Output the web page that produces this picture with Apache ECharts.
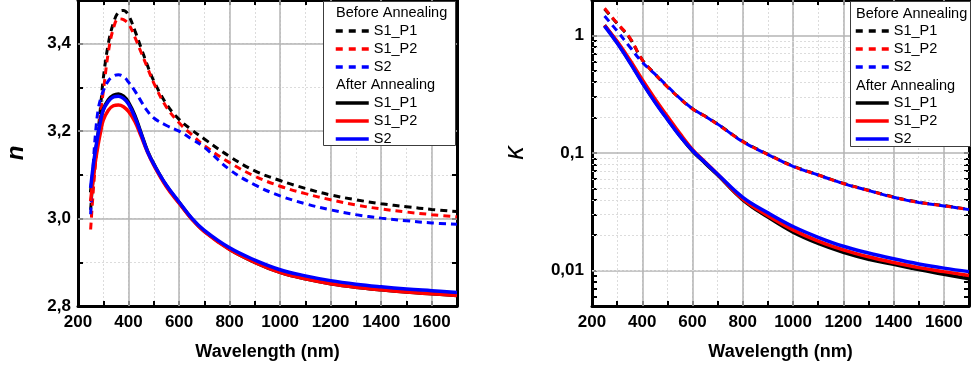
<!DOCTYPE html>
<html><head><meta charset="utf-8">
<script src="https://cdn.jsdelivr.net/npm/echarts@6/dist/echarts.min.js"></script>
<style>html,body{margin:0;padding:0;background:#fff}#c{width:972px;height:368px}</style>
</head><body><div id="c"></div>
<script>
// ---------- data ----------
const nLambda = [250,260,270,280,290,300,320,340,360,380,400,425,450,475,500,550,600,650,700,800,900,1000,1100,1200,1300,1400,1500,1600,1700];
const nBefore_S1_P1 = [3.02,3.09,3.14,3.20,3.26,3.32,3.40,3.447,3.472,3.476,3.465,3.430,3.390,3.350,3.315,3.262,3.227,3.203,3.182,3.142,3.109,3.087,3.069,3.054,3.043,3.034,3.027,3.021,3.016];
const nBefore_S1_P2 = [2.975,3.06,3.13,3.19,3.245,3.29,3.38,3.435,3.457,3.455,3.445,3.415,3.380,3.345,3.310,3.255,3.219,3.192,3.167,3.128,3.097,3.074,3.057,3.043,3.031,3.022,3.015,3.009,3.004];
const nBefore_S2 = [3.01,3.12,3.20,3.25,3.275,3.292,3.315,3.326,3.329,3.325,3.312,3.292,3.268,3.246,3.230,3.213,3.200,3.182,3.163,3.112,3.077,3.052,3.034,3.020,3.009,3.001,2.995,2.990,2.987];
const nAfter_S1_P1 = [3.06,3.11,3.155,3.19,3.225,3.25,3.272,3.282,3.285,3.280,3.266,3.236,3.195,3.155,3.125,3.075,3.037,3.000,2.971,2.930,2.900,2.877,2.862,2.851,2.843,2.837,2.832,2.828,2.824];
const nAfter_S1_P2 = [3.04,3.09,3.135,3.17,3.20,3.225,3.248,3.258,3.260,3.256,3.245,3.222,3.188,3.152,3.122,3.073,3.035,2.999,2.970,2.929,2.900,2.877,2.862,2.851,2.843,2.837,2.832,2.828,2.824];
const nAfter_S2 = [3.07,3.12,3.16,3.195,3.225,3.248,3.268,3.278,3.280,3.275,3.262,3.232,3.193,3.153,3.124,3.076,3.038,3.001,2.973,2.933,2.905,2.883,2.869,2.858,2.850,2.844,2.839,2.835,2.831];

const kLambda = [250,300,350,400,450,500,550,600,650,700,800,900,1000,1100,1200,1300,1400,1500,1600,1700];
const kBefore_S1_P1 = [1.68,1.26,0.95,0.62,0.47,0.366,0.291,0.238,0.206,0.176,0.126,0.0975,0.0775,0.0652,0.0552,0.0482,0.0422,0.0382,0.0357,0.0332];
const kBefore_S1_P2 = [1.70,1.27,0.96,0.62,0.47,0.365,0.290,0.237,0.205,0.175,0.125,0.097,0.077,0.065,0.055,0.048,0.042,0.038,0.0355,0.033];
const kBefore_S2 = [1.46,1.09,0.80,0.59,0.47,0.37,0.292,0.238,0.205,0.176,0.125,0.097,0.077,0.065,0.055,0.048,0.042,0.038,0.0355,0.033];
const kAfter_S1_P1 = [1.22,0.87,0.60,0.40,0.275,0.195,0.140,0.104,0.082,0.065,0.040,0.0285,0.0212,0.0170,0.0143,0.0125,0.0113,0.0102,0.0093,0.0085];
const kAfter_S1_P2 = [1.22,0.89,0.62,0.42,0.29,0.205,0.146,0.107,0.084,0.066,0.0405,0.0293,0.0222,0.0178,0.0150,0.0131,0.0117,0.0106,0.0098,0.0091];
const kAfter_S2 = [1.20,0.86,0.59,0.395,0.272,0.193,0.139,0.105,0.083,0.066,0.042,0.031,0.0237,0.0192,0.0161,0.0141,0.0126,0.0114,0.0105,0.0098];

// ---------- ticks ----------
const xTicks = [200,400,600,800,1000,1200,1400,1600];
const xTickLabels = ['200','400','600','800','1000','1200','1400','1600'];
const xMajorGrid = [400,600,800,1000,1200,1400,1600];
const nTicks = [2.8,3.0,3.2,3.4];
const nTickLabels = ['2,8','3,0','3,2','3,4'];
const nMajorGrid = [3.0,3.2,3.4];
const kTicks = [0.01,0.1,1];
const kTickLabels = ['0,01','0,1','1'];
const kMinorTicks = [0.005,0.006,0.007,0.008,0.009,0.01,0.02,0.03,0.04,0.05,0.06,0.07,0.08,0.09,0.1,0.2,0.3,0.4,0.5,0.6,0.7,0.8,0.9,1,2];
const kMinorGrid = [0.006,0.007,0.008,0.009,0.02,0.03,0.04,0.05,0.06,0.07,0.08,0.09,0.2,0.3,0.4,0.5,0.6,0.7,0.8,0.9];

const legendBefore = ['b_S1_P1','b_S1_P2','b_S2'];
const legendAfter = ['a_S1_P1','a_S1_P2','a_S2'];

// ---------- helpers ----------
const FONT = '"Liberation Sans", Arial, sans-serif';
const AXIS_COLOR = '#000';
function lookup(ticks, labels) {
  return function (v) {
    for (let i = 0; i < ticks.length; i++) {
      if (Math.abs(v - ticks[i]) <= 1e-6 * Math.max(1e-3, Math.abs(ticks[i]))) return labels[i];
    }
    return '';
  };
}
const labelStyle = { fontFamily: FONT, fontWeight: 'bold', fontSize: 17, color: '#000' };
const tickStyle = { show: true, inside: true, length: 5, lineStyle: { color: AXIS_COLOR, width: 2 } };
const lineAxis = { show: true, onZero: false, lineStyle: { color: AXIS_COLOR, width: 3 } };
const minorSplit = { show: true, lineStyle: { color: '#dcdcdc', width: 1, type: [2, 2] } };

function xAxisDef(gridIndex, position) {
  const bottom = position === 'bottom';
  return {
    type: 'value', gridIndex, position, min: 200, max: 1700, interval: 100,
    axisLine: lineAxis, axisTick: tickStyle,
    axisLabel: Object.assign({ show: bottom, margin: 8, formatter: lookup(xTicks, xTickLabels) }, labelStyle),
    splitLine: bottom ? minorSplit : { show: false },
    name: bottom ? 'Wavelength (nm)' : '', nameLocation: 'middle', nameGap: 37,
    nameTextStyle: { fontFamily: FONT, fontWeight: 'bold', fontSize: 18, color: '#000' }
  };
}
function toPairs(xs, ys) { return xs.map((x, i) => [x, ys[i]]); }
function seriesDef(name, xs, ys, color, dashed, xi, yi) {
  return {
    type: 'line', name, xAxisIndex: xi, yAxisIndex: yi, data: toPairs(xs, ys),
    symbol: 'none', smooth: 0.4, animation: false, z: 2,
    lineStyle: { color, width: dashed ? 3 : 3.5, type: dashed ? [7, 5] : 'solid', cap: 'butt' },
    itemStyle: { color }
  };
}
const majorStyle = { color: '#b4b4b4', width: 1.5, type: 'solid' };
const minorStyle = { color: '#dcdcdc', width: 1, type: [2, 2] };
function gridSeries(xi, yi, xs, ys, yMinor) {
  const data = [];
  xs.forEach(v => data.push({ xAxis: v, lineStyle: majorStyle }));
  ys.forEach(v => data.push({ yAxis: v, lineStyle: majorStyle }));
  (yMinor || []).forEach(v => data.push({ yAxis: v, lineStyle: minorStyle }));
  return {
    type: 'line', name: 'grid' + xi, xAxisIndex: xi, yAxisIndex: yi, data: [], silent: true, z: 1,
    markLine: { silent: true, z: 1, animation: false, symbol: ['none', 'none'], label: { show: false }, data }
  };
}
function legendDef(left, top, names, dashed) {
  return {
    orient: 'vertical', left, top, padding: 0, itemWidth: 33, itemHeight: 16, itemGap: 2,
    selectedMode: false, formatter: n => n.slice(2), z: 6,
    data: names.map(name => ({ name, lineStyle: { width: 3.5, type: dashed ? [7, 6] : 'solid' } })),
    itemStyle: { opacity: 0, borderWidth: 0 },
    lineStyle: { width: 3.5 },
    textStyle: { fontFamily: FONT, fontSize: 14.5, color: '#000', lineHeight: 16 }
  };
}
function titleText(x, y, text) {
  return { type: 'text', x, y, z: 6, style: { text, font: '14.5px ' + FONT, fill: '#000', verticalAlign: 'middle' } };
}

const option = {
  animation: false,
  backgroundColor: '#fff',
  grid: [
    { left: 78, right: 515, top: 0, bottom: 62 },
    { left: 592, right: 1, top: 0, bottom: 62 }
  ],
  xAxis: [ xAxisDef(0, 'bottom'), xAxisDef(0, 'top'), xAxisDef(1, 'bottom'), xAxisDef(1, 'top') ],
  yAxis: [
    { type: 'value', gridIndex: 0, position: 'left', min: 2.8, max: 3.5, interval: 0.1,
      axisLine: lineAxis, axisTick: tickStyle,
      axisLabel: Object.assign({ margin: 7, formatter: lookup(nTicks, nTickLabels) }, labelStyle),
      splitLine: minorSplit,
      name: 'n', nameLocation: 'middle', nameGap: 50,
      nameTextStyle: { fontFamily: FONT, fontWeight: 'bold', fontStyle: 'italic', fontSize: 24, color: '#000' } },
    { type: 'value', gridIndex: 0, position: 'right', min: 2.8, max: 3.5, interval: 0.1,
      axisLine: lineAxis, axisTick: tickStyle, axisLabel: { show: false }, splitLine: { show: false } },
    { type: 'log', logBase: 10, gridIndex: 1, position: 'left', min: 0.005, max: 2,
      axisLine: lineAxis, axisTick: Object.assign({ customValues: kMinorTicks }, tickStyle),
      axisLabel: Object.assign({ margin: 8, customValues: kTicks, formatter: lookup(kTicks, kTickLabels) }, labelStyle),
      splitLine: { show: false },
      name: '\u03BA', nameLocation: 'middle', nameGap: 63,
      nameTextStyle: { fontFamily: FONT, fontStyle: 'italic', fontSize: 27, color: '#000' } },
    { type: 'log', logBase: 10, gridIndex: 1, position: 'right', min: 0.005, max: 2,
      axisLine: lineAxis, axisTick: Object.assign({ customValues: kMinorTicks }, tickStyle),
      axisLabel: { show: false }, splitLine: { show: false } }
  ],
  legend: [
    legendDef(334, 23, legendBefore, true),
    legendDef(334, 95, legendAfter, false),
    legendDef(854, 23, legendBefore, true),
    legendDef(854, 95, legendAfter, false)
  ],
  graphic: [
    { type: 'rect', z: 5, shape: { x: 323.5, y: 1.5, width: 132, height: 144 }, style: { fill: '#fff', stroke: '#3c3c3c', lineWidth: 1 } },
    { type: 'rect', z: 5, shape: { x: 850.5, y: 1.5, width: 120, height: 145 }, style: { fill: '#fff', stroke: '#3c3c3c', lineWidth: 1 } },
    titleText(336, 13, 'Before Annealing'),
    titleText(336, 85, 'After Annealing'),
    titleText(856, 14, 'Before Annealing'),
    titleText(856, 86, 'After Annealing')
  ],
  series: [
    gridSeries(0, 0, xMajorGrid, nMajorGrid, []),
    gridSeries(2, 2, xMajorGrid, kTicks, kMinorGrid),
    seriesDef('b_S1_P1', nLambda, nBefore_S1_P1, '#000000', true, 0, 0),
    seriesDef('b_S1_P2', nLambda, nBefore_S1_P2, '#ff0000', true, 0, 0),
    seriesDef('b_S2', nLambda, nBefore_S2, '#0000ff', true, 0, 0),
    seriesDef('a_S1_P1', nLambda, nAfter_S1_P1, '#000000', false, 0, 0),
    seriesDef('a_S1_P2', nLambda, nAfter_S1_P2, '#ff0000', false, 0, 0),
    seriesDef('a_S2', nLambda, nAfter_S2, '#0000ff', false, 0, 0),
    seriesDef('b_S1_P1', kLambda, kBefore_S1_P1, '#000000', true, 2, 2),
    seriesDef('b_S1_P2', kLambda, kBefore_S1_P2, '#ff0000', true, 2, 2),
    seriesDef('b_S2', kLambda, kBefore_S2, '#0000ff', true, 2, 2),
    seriesDef('a_S1_P1', kLambda, kAfter_S1_P1, '#000000', false, 2, 2),
    seriesDef('a_S1_P2', kLambda, kAfter_S1_P2, '#ff0000', false, 2, 2),
    seriesDef('a_S2', kLambda, kAfter_S2, '#0000ff', false, 2, 2)
  ]
};
const chart = echarts.init(document.getElementById('c'), null, { renderer: 'canvas' });
chart.setOption(option);
</script></body></html>
